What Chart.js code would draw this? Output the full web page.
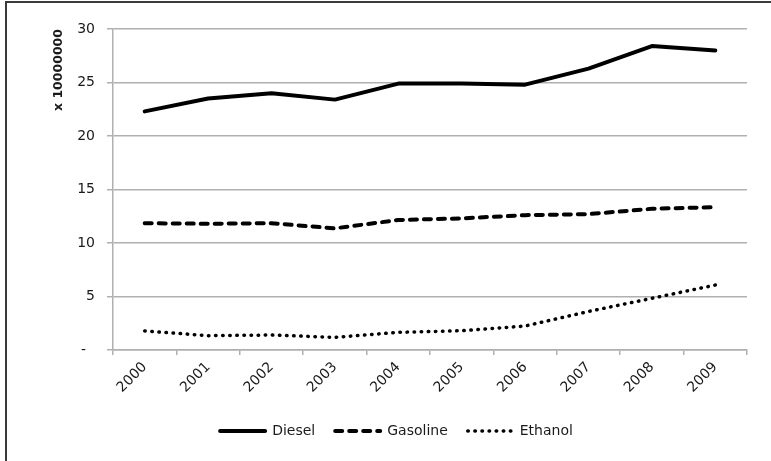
<!DOCTYPE html>
<html>
<head>
<meta charset="utf-8">
<title>Fuel consumption 2000-2009</title>
<script src="https://cdn.jsdelivr.net/npm/chart.js@4/dist/chart.umd.min.js"></script>
<style>
  html, body { margin: 0; padding: 0; background: #ffffff; overflow: hidden; }
  #wrap { position: relative; width: 771px; height: 461px; }
  #frame {
    position: absolute; left: 5px; top: 1px; width: 800px; height: 500px;
    border-top: 2px solid #3a3a3a; border-left: 2px solid #3a3a3a;
    pointer-events: none;
  }
  canvas { display: block; }
</style>
</head>
<body>
<div id="wrap">
  <canvas id="chart" width="771" height="461"></canvas>
  <div id="frame"></div>
</div>
<script>
// Years on the category axis
const years = ['2000', '2001', '2002', '2003', '2004', '2005', '2006', '2007', '2008', '2009'];

// Consumption per fuel, in units of 10,000,000
const diesel   = [22.3, 23.5, 24.0, 23.4, 24.9, 24.9, 24.8, 26.3, 28.4, 28.0];
const gasoline = [11.85, 11.8, 11.85, 11.37, 12.15, 12.3, 12.6, 12.7, 13.2, 13.35];
const ethanol  = [1.78, 1.34, 1.4, 1.18, 1.65, 1.8, 2.24, 3.6, 4.83, 6.07];

// Value axis: range, step and the caption giving the multiplier
const yMin = 0;
const yMax = 30;
const yStep = 5;
const yCaption = 'x 10000000';
const zeroLabel = '-  ';

const FONT = '"DejaVu Sans", sans-serif';
const INK = '#1a1a1a';
const GRID = '#b0b0b0';

// Legend entries drawn as short line samples carrying each series' dash pattern
function lineLegendLabels(chart) {
  const items = Chart.defaults.plugins.legend.labels.generateLabels(chart);
  items.forEach((item) => {
    const ds = chart.data.datasets[item.datasetIndex];
    item.lineDash = ds.borderDash || [];
    item.lineWidth = ds.borderWidth;
    item.lineCap = ds.borderCapStyle || 'butt';
    item.strokeStyle = ds.borderColor;
    item.pointStyle = 'line';
  });
  return items;
}

new Chart(document.getElementById('chart'), {
  type: 'line',
  data: {
    labels: years,
    datasets: [
      {
        label: 'Diesel',
        data: diesel,
        borderColor: '#000000',
        backgroundColor: '#000000',
        borderWidth: 4,
        borderCapStyle: 'round',
        borderJoinStyle: 'round',
        pointRadius: 0,
        tension: 0
      },
      {
        label: 'Gasoline',
        data: gasoline,
        borderColor: '#000000',
        backgroundColor: '#000000',
        borderWidth: 4,
        borderDash: [7, 7],
        borderCapStyle: 'round',
        pointRadius: 0,
        tension: 0
      },
      {
        label: 'Ethanol',
        data: ethanol,
        borderColor: '#000000',
        backgroundColor: '#000000',
        borderWidth: 3.5,
        borderDash: [0.5, 6.6],
        borderCapStyle: 'round',
        pointRadius: 0,
        tension: 0
      }
    ]
  },
  options: {
    responsive: false,
    animation: false,
    events: [],
    layout: { padding: { left: 22, top: 29, right: 0, bottom: 13 } },
    plugins: {
      tooltip: { enabled: false },
      title: { display: false },
      legend: {
        display: true,
        position: 'bottom',
        align: 'center',
        labels: {
          usePointStyle: true,
          pointStyle: 'line',
          pointStyleWidth: 45,
          padding: 20,
          color: INK,
          font: { family: FONT, size: 14 },
          generateLabels: lineLegendLabels
        }
      }
    },
    scales: {
      x: {
        type: 'category',
        offset: true,
        grid: {
          display: true,
          offset: true,
          drawOnChartArea: false,
          drawTicks: true,
          tickLength: 5,
          color: GRID,
          lineWidth: 1.5
        },
        border: { display: true, color: GRID, width: 1.5 },
        ticks: {
          minRotation: 45,
          maxRotation: 45,
          autoSkip: false,
          padding: 4,
          color: INK,
          font: { family: FONT, size: 14 }
        },
        afterFit: (scale) => { scale.height = 54; }
      },
      y: {
        type: 'linear',
        position: 'left',
        min: yMin,
        max: yMax,
        grid: {
          display: true,
          color: GRID,
          lineWidth: 1.5,
          tickLength: 6
        },
        border: { display: true, color: GRID, width: 1.5 },
        ticks: {
          stepSize: yStep,
          padding: 12,
          color: INK,
          font: { family: FONT, size: 14 },
          callback: (v) => (v === 0 ? zeroLabel : String(v))
        },
        title: {
          display: true,
          text: yCaption,
          align: 'end',
          color: INK,
          font: { family: FONT, size: 12.5, weight: 'bold' },
          padding: { top: 29, bottom: 0 }
        },
        afterFit: (scale) => { scale.width = 91; }
      },
      yRight: {
        type: 'linear',
        position: 'right',
        display: true,
        min: yMin,
        max: yMax,
        grid: { display: false, drawOnChartArea: false },
        border: { display: false },
        ticks: { display: false },
        afterFit: (scale) => { scale.width = 24; }
      }
    }
  }
});
</script>
</body>
</html>
